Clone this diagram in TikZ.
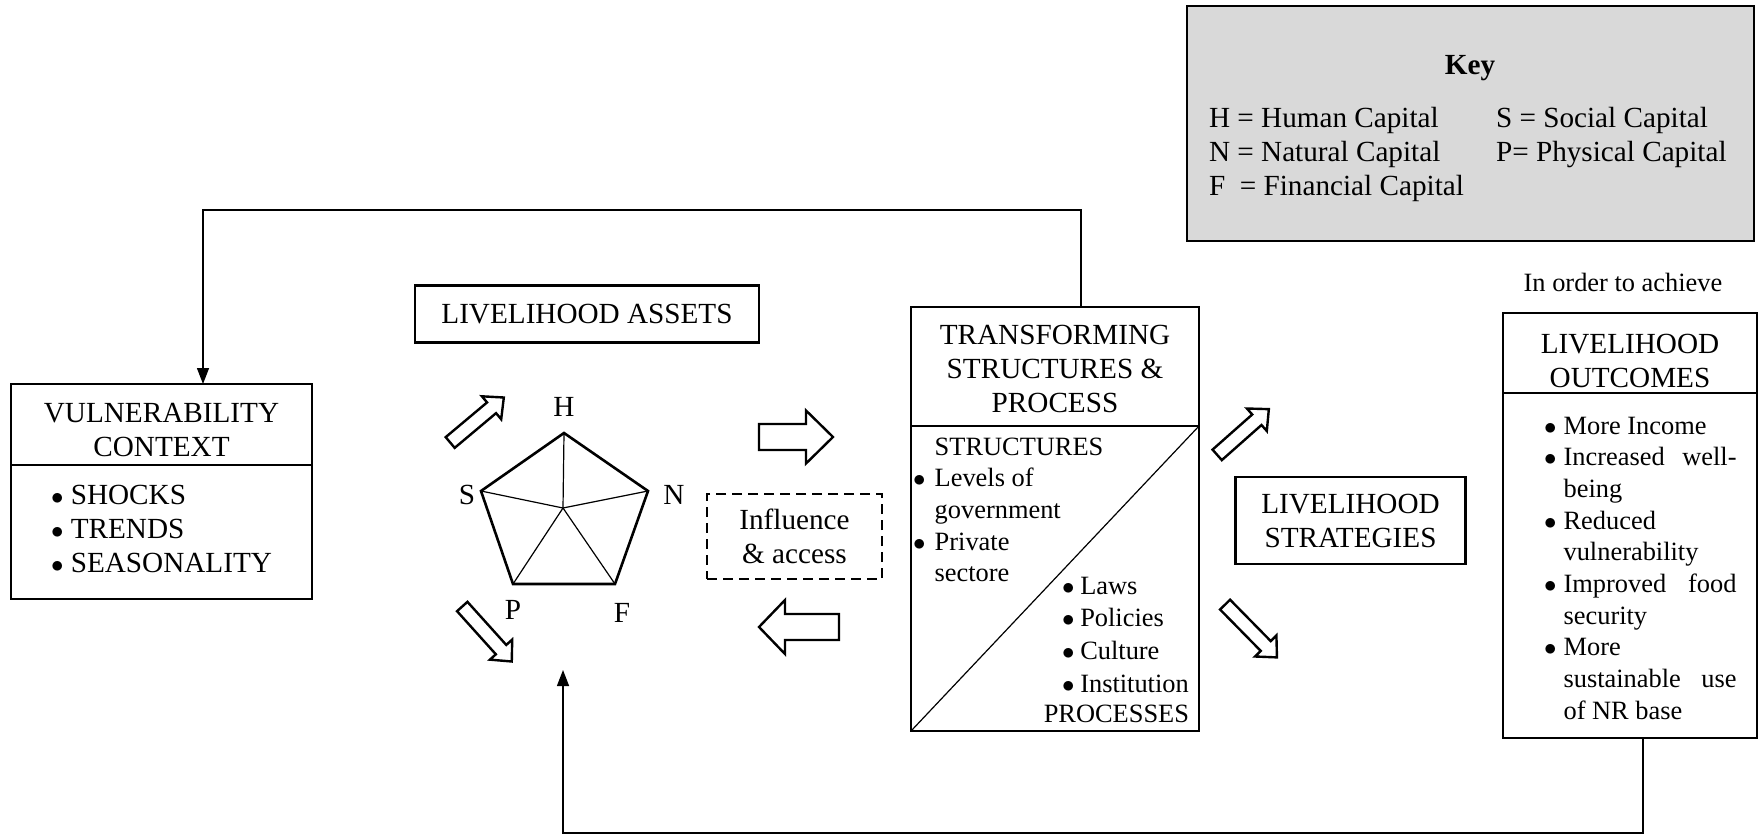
\documentclass[tikz,border=0pt]{standalone}
\usepackage{fontspec}
\setmainfont{Liberation Serif}
\usetikzlibrary{arrows.meta,positioning}

\definecolor{keygray}{RGB}{217,217,217}
\newcommand{\headfont}{\fontsize{29.2}{34}\selectfont}
\newcommand{\bodyfont}{\fontsize{26.4}{31.7}\selectfont}
\newcommand{\procfont}{\fontsize{26.4}{32.7}\selectfont}
\newcommand{\bul}{$\bullet$}

\tikzset{
  box/.style={draw, line width=2.6pt, inner sep=0pt, outer sep=0pt, align=center, font=\headfont},
  dashbox/.style={box, dash pattern=on 10pt off 6pt},
  keybox/.style={box, fill=keygray},
  txt/.style={inner sep=0pt, outer sep=0pt},
  title/.style={txt, align=center, font=\headfont},
  vertexlbl/.style={font=\headfont, inner sep=0pt},
  rim/.style={line width=2.6pt, line join=miter},
  spoke/.style={line width=1.2pt},
  link/.style={line width=1.4pt},
  linkarrow/.style={link, -{Triangle[length=16pt,width=12pt]}},
  pics/fatarrow/.style args={#1/#2/#3/#4}{code={
    \draw[line width=2.4pt, fill=white, line join=miter]
      (-#1/2,-#2/2) -- (#1/2-#4,-#2/2) -- (#1/2-#4,-#3/2) -- (#1/2,0)
      -- (#1/2-#4,#3/2) -- (#1/2-#4,#2/2) -- (-#1/2,#2/2) -- cycle;
  }}
}

\begin{document}
\begin{tikzpicture}[x=1pt,y=-1pt]
\useasboundingbox (0,0) rectangle (1760,835);

% key
\node[keybox, minimum width=567pt, minimum height=235pt] (key) at (1470.5,123.5) {};
\node[txt, font=\headfont\bfseries] (keytitle) at (1470,68) {Key};
\node[txt, font=\headfont, anchor=base west] (keytext) at (1209,127)
  {\begin{tabular}[t]{@{}p{287pt}@{}l@{}}
   H = Human Capital & S = Social Capital\\
   N = Natural Capital & P= Physical Capital\\
   F\ \ = Financial Capital &
   \end{tabular}};

% vulnerability context
\node[box, minimum width=301pt, minimum height=81pt] (vchead) at (161.5,424.5) {};
\node[title] (vctitle) at (161.5,429.5) {VULNERABILITY\\CONTEXT};
\node[box, minimum width=301pt, minimum height=134pt, below=0pt of vchead] (vcbody)
  {\begin{tabular}{@{}c@{\hspace{.25em}}l@{}}
   \bul & SHOCKS\\
   \bul & TRENDS\\
   \bul & SEASONALITY
   \end{tabular}};

% livelihood assets
\node[box, minimum width=344pt, minimum height=57pt] (assets) at (587,314) {LIVELIHOOD ASSETS};

\coordinate (H) at (564,433);
\coordinate (N) at (648,491);
\coordinate (F) at (615,584);
\coordinate (P) at (513,584);
\coordinate (S) at (481,491);
\coordinate (hub) at (563,508);
\foreach \v in {H,N,F,P,S}
  \draw[spoke] (hub) -- (\v);
\draw[rim] (H) -- (N) -- (F) -- (P) -- (S) -- cycle;

\node[vertexlbl] (lblH) at (564,407) {H};
\node[vertexlbl] (lblN) at (674,495) {N};
\node[vertexlbl] (lblF) at (622,613) {F};
\node[vertexlbl] (lblP) at (513,610) {P};
\node[vertexlbl] (lblS) at (467,495) {S};

\pic (arUp) [rotate=40] at (477,420) {fatarrow=70/14/30/16};
\pic (arDown) [rotate=-48] at (487,634) {fatarrow=74/14/30/16};

% influence and access
\node[dashbox, minimum width=175pt, minimum height=85pt] (influence) at (794.5,536.5) {Influence\\\& access};
\pic (arRight) at (796,437) {fatarrow=74/26/53/27};
\pic (arLeft) [rotate=180] at (799,627) {fatarrow=80/26/54/26};

% transforming structures and process
\node[box, minimum width=288pt, minimum height=119pt] (tsphead) at (1055,366.5) {};
\node[title] (tsptitle) at (1055,369) {TRANSFORMING\\STRUCTURES \&\\PROCESS};
\node[box, minimum width=288pt, minimum height=305pt, below=0pt of tsphead] (tspbody) {};
\draw[spoke] (tspbody.south west) -- (tspbody.north east);

\node[txt, font=\bodyfont, anchor=base west] (structs) at (913,455)
  {\begin{tabular}[t]{@{}c@{\hspace{.35em}}l@{}}
   & STRUCTURES\\
   \bul & Levels of\\
   & government\\
   \bul & Private\\
   & sectore
   \end{tabular}};
\node[txt, font=\procfont, anchor=base west] (procs) at (1062,594)
  {\begin{tabular}[t]{@{}c@{\hspace{.22em}}l@{}}
   \bul & Laws\\
   \bul & Policies\\
   \bul & Culture\\
   \bul & Institution
   \end{tabular}};
\node[txt, font=\bodyfont, anchor=base east] (proclbl) at (1189,722) {PROCESSES};

% strategies
\pic (arStratUp) [rotate=41.5] at (1243,432) {fatarrow=69/14/30/16};
\pic (arStratDown) [rotate=-45.5] at (1251,631) {fatarrow=74/14/30/16};
\node[box, minimum width=230pt, minimum height=87pt] (strategies) at (1350.5,520.5) {LIVELIHOOD\\STRATEGIES};

% outcomes
\node[txt, font=\bodyfont] (achieve) at (1623,282) {In order to achieve};
\node[box, minimum width=254pt, minimum height=80pt] (outhead) at (1630,353) {};
\node[title] (outtitle) at (1630,360.5) {LIVELIHOOD\\OUTCOMES};
\node[box, minimum width=254pt, minimum height=345pt, below=0pt of outhead] (outbody) {};
\node[txt, font=\bodyfont, anchor=base west] (outlist) at (1544,434)
  {\begin{tabular}[t]{@{}c@{\hspace{.27em}}p{173pt}@{}}
   \bul & More Income\\
   \bul & Increased\hfill well-\newline being\\
   \bul & Reduced\newline vulnerability\\
   \bul & Improved\hfill food\newline security\\
   \bul & More\newline sustainable\hfill use\newline of NR base
   \end{tabular}};

% feedback lines
\coordinate (topR) at (1081,210);
\coordinate (topL) at (203,210);
\draw[linkarrow] (tsphead.north -| topR) -- (topR) -- (topL) -- (topL |- vchead.north);

\coordinate (botR) at (1643,833);
\coordinate (botL) at (563,833);
\coordinate (assetsin) at (563,670);
\draw[linkarrow] (outbody.south -| botR) -- (botR) -- (botL) -- (assetsin);
\end{tikzpicture}
\end{document}
